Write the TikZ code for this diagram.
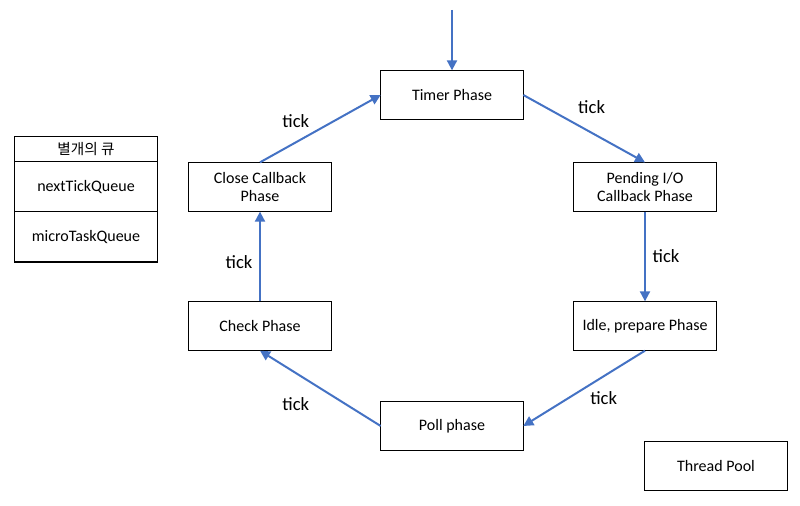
\documentclass[tikz,border=0pt]{standalone}
\usepackage{fontspec}
\setmainfont{Carlito}
\newfontfamily\krfont{Noto Sans CJK KR}
\usepackage{tikz}
\usetikzlibrary{arrows.meta, positioning}
\tikzset{
    phase/.style = {rectangle, draw=black, line width=0.75pt, minimum width=107pt, minimum height=37pt, align=center, inner sep=1pt, outer sep=0pt, font=\fontsize{12}{14}\selectfont},
    qrow/.style  = {phase, minimum height=37.5pt},
    qhead/.style = {phase, minimum height=18.75pt, font=\krfont\fontsize{11}{13}\selectfont},
    flow/.style  = {line width=1.5pt, draw=loopblue, -{Triangle[length=7.5pt, width=7.5pt]}},
    ticklabel/.style = {font=\fontsize{14}{16}\selectfont}
}
\definecolor{loopblue}{HTML}{4472C4}

\begin{document}
\begin{tikzpicture}[x=0.75pt, y=-0.75pt]
        \useasboundingbox (0,0) rectangle (800,506);

        % Event loop phases
        \node (timer) [phase] at (452,95) {Timer Phase};
        \node (pending) [phase] at (645,187) {Pending I/O\\Callback Phase};
        \node (idle) [phase] at (645,326) {Idle, prepare Phase};
        \node (poll) [phase] at (452,426) {Poll phase};
        \node (check) [phase] at (260,326) {Check Phase};
        \node (close) [phase] at (260,187) {Close Callback\\Phase};

        % Separate queues
        \node (qhead) [qhead] at (86,149.5) {별개의 큐};
        \node (nexttick) [qrow, below=0pt of qhead] {nextTickQueue};
        \node (microtask) [qrow, below=0pt of nexttick] {microTaskQueue};

        % Thread pool
        \node (pool) [phase] at (716,466) {Thread Pool};

        % Entry
        \coordinate (entry) at (452,10);
        \draw [flow] (entry) -- (timer);

        % Loop arrows
        \draw [flow] (timer.east) -- (pending.north) node [ticklabel, pos=0.5, xshift=5.6pt, yshift=16.5pt] {tick};
        \draw [flow] (pending) -- (idle) node [ticklabel, pos=0.5, xshift=15.75pt] {tick};
        \draw [flow] (idle.south) -- (poll.east) node [ticklabel, pos=0.5, xshift=14.6pt, yshift=-7.1pt] {tick};
        \draw [flow] (poll.west) -- (check.south) node [ticklabel, pos=0.5, xshift=-18.4pt, yshift=-11.6pt] {tick};
        \draw [flow] (check) -- (close) node [ticklabel, pos=0.5, xshift=-15.75pt, yshift=-4.5pt] {tick};
        \draw [flow] (close.north) -- (timer.west) node [ticklabel, pos=0.5, xshift=-18.4pt, yshift=6pt] {tick};

    \end{tikzpicture}
\end{document}
